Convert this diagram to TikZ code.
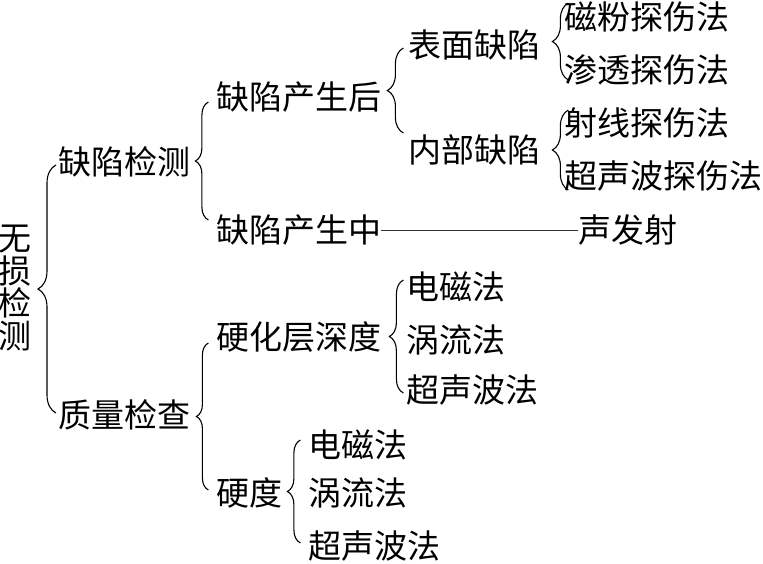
\documentclass[tikz,border=0pt]{standalone}
\usepackage{fontspec}
\newfontfamily\cjk{Noto Sans CJK SC}
\usetikzlibrary{decorations.pathreplacing,calc}
\begin{document}
\begin{tikzpicture}[x=1pt,y=-1pt,
  lbl/.style={font=\cjk\fontsize{33}{32.5}\selectfont, inner sep=0pt, anchor=west},
  brc/.style={decorate, decoration={brace, amplitude=#1}, line width=1.1pt},
  conn/.style={line width=1pt, black!80}]
\useasboundingbox (0,0) rectangle (763,563);
\node[lbl, anchor=center, align=center] (ws) at (15,288) {无\\损\\检\\测};
\node[lbl] (qxjc) at (58,162) {缺陷检测};
\node[lbl] (zljc) at (58,415) {质量检查};
\node[lbl] (qxcsh) at (216,97) {缺陷产生后};
\node[lbl] (qxcsz) at (216,230) {缺陷产生中};
\node[lbl] (bmqx) at (408,45) {表面缺陷};
\node[lbl] (nbqx) at (408,150) {内部缺陷};
\node[lbl] (cf) at (564,17) {磁粉探伤法};
\node[lbl] (st) at (564,70) {渗透探伤法};
\node[lbl] (sx) at (564,123) {射线探伤法};
\node[lbl] (csb) at (564,176) {超声波探伤法};
\node[lbl] (sfs) at (578,230) {声发射};
\node[lbl] (yhc) at (216,337) {硬化层深度};
\node[lbl] (dc1) at (406,287) {电磁法};
\node[lbl] (wl1) at (406,340) {涡流法};
\node[lbl] (cs1) at (406,390) {超声波法};
\node[lbl] (yd) at (216,493) {硬度};
\node[lbl] (dc2) at (308,445) {电磁法};
\node[lbl] (wl2) at (308,493) {涡流法};
\node[lbl] (cs2) at (308,546) {超声波法};
% braces
\draw[brc=18pt] ($(zljc.west)+(-2,-2)$) -- ($(qxjc.west)+(-2,3)$);
\draw[brc=13pt] ($(qxjc.east |- qxcsz.west)+(18,-10)$) -- ($(qxjc.east |- qxcsh.west)+(18,5)$);
\draw[brc=16pt] ($(qxcsh.east |- nbqx.west)+(22,-17)$) -- ($(qxcsh.east |- bmqx.west)+(22,3)$);
\draw[brc=16pt] ($(bmqx.east |- st.west)+(28,10)$) -- ($(bmqx.east |- cf.west)+(28,-14)$);
\draw[brc=16pt] ($(nbqx.east |- csb.west)+(28,14)$) -- ($(nbqx.east |- sx.west)+(28,-13)$);
\draw[brc=14pt] ($(yhc.east |- cs1.west)+(22,3)$) -- ($(yhc.east |- dc1.west)+(22,-7)$);
\draw[brc=12pt] ($(zljc.east |- yd.west)+(18,-3)$) -- ($(zljc.east |- yhc.west)+(18,6)$);
\draw[brc=13pt] ($(yd.east |- cs2.west)+(18,-3)$) -- ($(yd.east |- dc2.west)+(18,-5)$);
\draw[conn] (qxcsz.east) -- (sfs.west);
\end{tikzpicture}
\end{document}
